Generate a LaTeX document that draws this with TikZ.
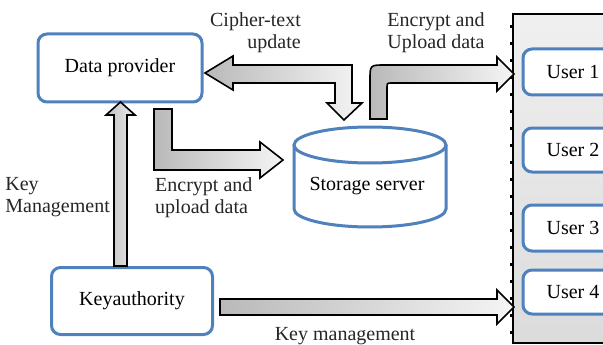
\documentclass[tikz,border=0pt]{standalone}
\usepackage{fontspec}
\setmainfont{Liberation Serif}
\definecolor{boxblue}{HTML}{4F81BD}
\definecolor{txt}{HTML}{262626}
\tikzset{
  x=1pt, y=-1pt,
  lbl/.style={font=\fontsize{20}{22}\selectfont, text=txt, inner sep=0pt},
  rbox/.style={draw=boxblue, line width=3pt, rounded corners=9pt, fill=white,
     font=\fontsize{20}{22}\selectfont, text=black, inner sep=0pt},
  blockarrow/.style={draw=black, line width=1.6pt, line join=miter,
     left color=gray!55, right color=gray!8},
  vblockarrow/.style={draw=black, line width=1.6pt, line join=miter,
     left color=gray!50, right color=gray!15},
}
\begin{document}
\begin{tikzpicture}
\useasboundingbox[fill=white] (0,0) rectangle (603,345);

% user panel
\path[draw=black, line width=1.5pt, top color=gray!12, bottom color=gray!28] (513,14) rectangle (640,343);
\draw[line width=3pt, dash pattern=on 3pt off 14pt] (511,25) -- (511,340);

% boxes
\node[rbox, minimum width=164pt, minimum height=68pt] (dp) at (120,68) {Data provider};
\node[rbox, minimum width=161pt, minimum height=67pt] (ka) at (132,301) {Keyauthority};
\node[rbox, minimum width=100pt, minimum height=46pt] (u1) at (573,72) {User 1};
\node[rbox, minimum width=100pt, minimum height=44pt] (u2) at (573,150) {User 2};
\node[rbox, minimum width=100pt, minimum height=46pt] (u3) at (573,228) {User 3};
\node[rbox, minimum width=100pt, minimum height=44pt] (u4) at (573,292) {User 4};

% storage cylinder
\path[draw=boxblue, line width=3pt, fill=white]
  (294,145) -- (294,209) arc (180:360:76pt and 18pt) -- (446,145);
\draw[boxblue, line width=3pt, fill=white] (370,145) ellipse (76pt and 18pt);
\node[lbl, text=black] (ss) at (367,186) {Storage server};

% key authority -> data provider
\path[vblockarrow] (114,266) -- (114,115) -- (106,115) -- (120.5,102) -- (135,115)
  -- (127,115) -- (127,266) -- cycle;

% data provider -> storage (L arrow)
\path[blockarrow] (154,109) -- (154,170) -- (260,170) -- (260,178) -- (283,160)
  -- (260,142) -- (260,150) -- (172,150) -- (172,109) -- cycle;

% cipher-text update (double headed)
\path[blockarrow] (205,73) -- (233,56) -- (233,65) -- (352,65) -- (352,103)
  -- (362,103) -- (344,120) -- (327,103) -- (335,103) -- (335,83) -- (233,83)
  -- (233,90) -- cycle;

% storage -> user panel
\path[blockarrow] (370,119) -- (370,80) .. controls (370,65) .. (385,65)
  -- (497,65) -- (497,57) -- (514,74) -- (497,91) -- (497,83) -- (392,83)
  .. controls (387,83) .. (387,88) -- (387,119) -- cycle;

% key management to users
\path[blockarrow] (220,299) -- (497,299) -- (497,290) -- (514,307) -- (497,324)
  -- (497,315) -- (220,315) -- cycle;

% labels
\node[lbl, align=right, anchor=north east] (l1) at (301,12) {Cipher-text\\update};
\node[lbl, align=center, anchor=north] (l2) at (436,12) {Encrypt and\\Upload data};
\node[lbl, align=left, anchor=north west] (l3) at (155,177) {Encrypt and\\upload data};
\node[lbl, align=left, anchor=north east] (l4) at (110,177) {Key\\Management};
\node[lbl, anchor=base] (l5) at (345,340) {Key management};
\end{tikzpicture}
\end{document}
